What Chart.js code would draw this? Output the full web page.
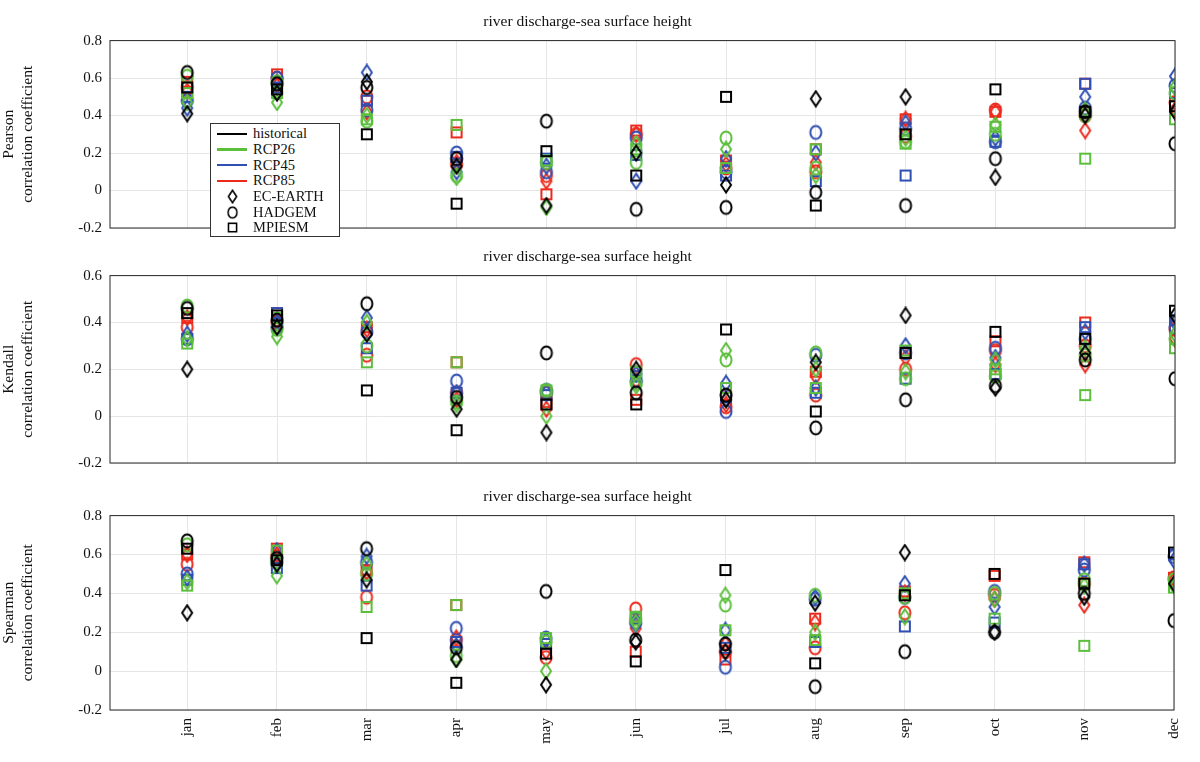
<!DOCTYPE html>
<html>
<head>
<meta charset="utf-8">
<script src="https://cdn.jsdelivr.net/npm/chart.js"></script>
<style>
  body { margin: 0; background: #fff; }
  #wrap { position: relative; width: 1200px; height: 762px; }
  #wrap > canvas { position: absolute; left: 0; }
  #legend {
    position: absolute; left: 210px; top: 123px; width: 130px; height: 114px;
    background: #fff; border: 1px solid #333; font-family: "Liberation Serif", "DejaVu Serif", serif;
    font-size: 14.5px; color: #111; z-index: 5; padding-top: 2px; box-sizing: border-box;
  }
  .row { height: 15.7px; display: flex; align-items: center; overflow: visible; }
  .ln { width: 30px; height: 2.5px; margin: 0 6px 0 6px; flex: none; }
  .mk { width: 30px; height: 15px; margin: 0 6px 0 6px; display: flex; justify-content: center; align-items: center; flex: none; }
  .mk canvas { display: block; width: 13px; height: 15px; }
</style>
</head>
<body>
<div id="wrap">
  <canvas id="c1" style="top:0px"></canvas>
  <canvas id="c2" style="top:245px"></canvas>
  <canvas id="c3" style="top:480px"></canvas>
  <div id="legend"></div>
</div>
<script>
const months = ['jan', 'feb', 'mar', 'apr', 'may', 'jun', 'jul', 'aug', 'sep', 'oct', 'nov', 'dec'];
const scenarios = ['historical', 'RCP26', 'RCP45', 'RCP85'];
const models = ['EC-EARTH', 'HADGEM', 'MPIESM'];
const scenarioColors = ['#000000', '#5bbf3c', '#2f4fb2', '#ec2a1c'];

// Pearson
const pearsonHistEC  = [0.41, 0.52, 0.58, 0.13, -0.08, 0.20, 0.03, 0.49, 0.50, 0.07, 0.40, 0.42];
const pearsonHistHAD = [0.63, 0.57, 0.55, 0.17, 0.37, -0.10, -0.09, -0.01, -0.08, 0.17, 0.42, 0.25];
const pearsonHistMPI = [0.55, 0.54, 0.30, -0.07, 0.21, 0.08, 0.50, -0.08, 0.30, 0.54, 0.42, 0.45];
const pearson26EC    = [0.47, 0.47, 0.40, 0.07, -0.09, 0.25, 0.22, 0.08, 0.28, 0.35, 0.43, 0.55];
const pearson26HAD   = [0.61, 0.58, 0.37, 0.08, 0.15, 0.15, 0.28, 0.12, 0.26, 0.30, 0.40, 0.52];
const pearson26MPI   = [0.52, 0.52, 0.38, 0.35, 0.16, 0.22, 0.12, 0.22, 0.25, 0.34, 0.17, 0.38];
const pearson45EC    = [0.44, 0.58, 0.63, 0.10, 0.13, 0.05, 0.17, 0.20, 0.36, 0.28, 0.50, 0.61];
const pearson45HAD   = [0.48, 0.60, 0.43, 0.20, 0.10, 0.28, 0.10, 0.31, 0.33, 0.26, 0.44, 0.56];
const pearson45MPI   = [0.50, 0.55, 0.48, 0.18, 0.17, 0.19, 0.08, 0.05, 0.08, 0.26, 0.57, 0.52];
const pearson85EC    = [0.53, 0.56, 0.42, 0.15, 0.05, 0.30, 0.14, 0.15, 0.38, 0.42, 0.32, 0.43];
const pearson85HAD   = [0.55, 0.60, 0.50, 0.14, 0.08, 0.30, 0.12, 0.10, 0.29, 0.43, 0.40, 0.47];
const pearson85MPI   = [0.58, 0.62, 0.48, 0.31, -0.02, 0.32, 0.16, 0.22, 0.38, 0.42, 0.57, 0.45];

// Kendall
const kendallHistEC  = [0.20, 0.38, 0.35, 0.03, -0.07, 0.20, 0.07, 0.23, 0.43, 0.12, 0.27, 0.43];
const kendallHistHAD = [0.46, 0.41, 0.48, 0.08, 0.27, 0.10, 0.09, -0.05, 0.07, 0.13, 0.24, 0.16];
const kendallHistMPI = [0.44, 0.43, 0.11, -0.06, 0.05, 0.05, 0.37, 0.02, 0.27, 0.36, 0.33, 0.45];
const kendall26EC    = [0.33, 0.34, 0.40, 0.05, 0.00, 0.13, 0.28, 0.20, 0.19, 0.24, 0.29, 0.35];
const kendall26HAD   = [0.47, 0.37, 0.30, 0.06, 0.11, 0.14, 0.24, 0.27, 0.16, 0.17, 0.26, 0.33];
const kendall26MPI   = [0.31, 0.42, 0.23, 0.23, 0.11, 0.19, 0.12, 0.12, 0.28, 0.20, 0.09, 0.29];
const kendall45EC    = [0.35, 0.40, 0.42, 0.10, 0.10, 0.18, 0.14, 0.12, 0.30, 0.25, 0.36, 0.40];
const kendall45HAD   = [0.33, 0.38, 0.36, 0.15, 0.11, 0.15, 0.02, 0.26, 0.27, 0.29, 0.33, 0.38];
const kendall45MPI   = [0.33, 0.44, 0.29, 0.10, 0.09, 0.17, 0.08, 0.10, 0.16, 0.18, 0.38, 0.41];
const kendall85EC    = [0.42, 0.41, 0.37, 0.07, 0.03, 0.15, 0.05, 0.17, 0.25, 0.22, 0.22, 0.33];
const kendall85HAD   = [0.38, 0.40, 0.26, 0.10, 0.10, 0.22, 0.04, 0.09, 0.20, 0.28, 0.30, 0.37];
const kendall85MPI   = [0.42, 0.44, 0.38, 0.23, 0.06, 0.07, 0.09, 0.19, 0.27, 0.32, 0.40, 0.37];

// Spearman
const spearmanHistEC  = [0.30, 0.55, 0.47, 0.06, -0.07, 0.15, 0.10, 0.35, 0.61, 0.20, 0.38, 0.45];
const spearmanHistHAD = [0.67, 0.58, 0.63, 0.12, 0.41, 0.16, 0.14, -0.08, 0.10, 0.20, 0.40, 0.26];
const spearmanHistMPI = [0.63, 0.57, 0.17, -0.06, 0.09, 0.05, 0.52, 0.04, 0.39, 0.50, 0.45, 0.61];
const spearman26EC    = [0.46, 0.49, 0.55, 0.06, 0.00, 0.25, 0.39, 0.20, 0.28, 0.37, 0.44, 0.44];
const spearman26HAD   = [0.65, 0.56, 0.50, 0.08, 0.15, 0.27, 0.34, 0.39, 0.38, 0.40, 0.47, 0.47];
const spearman26MPI   = [0.44, 0.62, 0.33, 0.34, 0.17, 0.28, 0.21, 0.16, 0.40, 0.27, 0.13, 0.43];
const spearman45EC    = [0.48, 0.62, 0.59, 0.13, 0.16, 0.24, 0.21, 0.38, 0.45, 0.33, 0.55, 0.57];
const spearman45HAD   = [0.50, 0.56, 0.56, 0.22, 0.17, 0.25, 0.02, 0.37, 0.38, 0.41, 0.52, 0.59];
const spearman45MPI   = [0.47, 0.53, 0.44, 0.15, 0.14, 0.27, 0.12, 0.15, 0.23, 0.25, 0.55, 0.60];
const spearman85EC    = [0.60, 0.60, 0.51, 0.17, 0.10, 0.22, 0.14, 0.25, 0.40, 0.37, 0.34, 0.47];
const spearman85HAD   = [0.55, 0.59, 0.38, 0.16, 0.07, 0.32, 0.10, 0.12, 0.30, 0.39, 0.45, 0.48];
const spearman85MPI   = [0.60, 0.63, 0.52, 0.34, 0.14, 0.10, 0.06, 0.27, 0.41, 0.49, 0.56, 0.48];

const serif = '"Liberation Serif", "DejaVu Serif", serif';

// marker images (MATLAB-like tall diamond, circle, square)
function makeMarker(shape, color) {
  const c = document.createElement('canvas');
  c.width = 16; c.height = 18;
  const g = c.getContext('2d');
  g.strokeStyle = color; g.lineWidth = 2;
  g.beginPath();
  if (shape === 0) {
    g.moveTo(8, 1.5); g.lineTo(13, 9); g.lineTo(8, 16.5); g.lineTo(3, 9); g.closePath();
  } else if (shape === 1) {
    g.ellipse(8, 9, 5.5, 6.5, 0, 0, Math.PI * 2);
  } else {
    g.rect(3, 4, 10, 10);
  }
  g.stroke();
  return c;
}

function buildDatasets(groups) {
  const ds = [];
  groups.forEach((byModel, s) => {
    byModel.forEach((vals, m) => {
      ds.push({
        label: scenarios[s] + ' ' + models[m],
        data: vals.map((v, i) => ({ x: i + 1, y: v })),
        pointStyle: makeMarker(m, scenarioColors[s]),
        pointRadius: 8,
        showLine: false
      });
    });
  });
  return ds;
}

const boxPlugin = {
  id: 'box',
  afterDraw(chart) {
    const a = chart.chartArea, g = chart.ctx;
    g.save(); g.strokeStyle = '#262626'; g.lineWidth = 1;
    g.strokeRect(a.left, a.top, a.right - a.left, a.bottom - a.top);
    g.restore();
  }
};

function makePanel(id, height, groups, yName, yMin, yMax, showX, titlePad) {
  const cv = document.getElementById(id);
  cv.style.width = '1200px'; cv.style.height = height + 'px';
  new Chart(cv, {
    type: 'scatter',
    data: { datasets: buildDatasets(groups) },
    plugins: [boxPlugin],
    options: {
      responsive: false, animation: false, devicePixelRatio: 1,
      layout: { padding: { left: 0, right: 25 } },
      plugins: {
        legend: { display: false }, tooltip: { enabled: false },
        title: { display: true, text: 'river discharge-sea surface height', color: '#111',
          font: { family: serif, size: 15.5, weight: 'normal' }, padding: titlePad }
      },
      scales: {
        x: {
          type: 'linear', min: 0.14, max: 12,
          afterBuildTicks: s => { s.ticks = months.map((m, i) => ({ value: i + 1 })); },
          afterFit: s => { s.height = showX ? 52 : 10; },
          grid: { color: '#e6e6e6', drawTicks: false },
          border: { display: false },
          ticks: { display: showX, maxRotation: 90, minRotation: 90, color: '#111', padding: 8,
            font: { family: serif, size: 15 }, callback: v => months[Math.round(v) - 1] }
        },
        y: {
          min: yMin, max: yMax,
          afterFit: s => { s.width = 110; },
          grid: { color: '#e6e6e6', drawTicks: false },
          border: { display: false },
          ticks: { stepSize: 0.2, color: '#111', padding: 8, font: { family: serif, size: 15 },
            callback: v => Math.abs(v) < 1e-9 ? '0' : v.toFixed(1) },
          title: { display: true, text: [yName, 'correlation coefficient'], color: '#111',
            font: { family: serif, size: 15.5 }, padding: 0 }
        }
      }
    }
  });
}

makePanel('c1', 245, [
  [pearsonHistEC, pearsonHistHAD, pearsonHistMPI],
  [pearson26EC, pearson26HAD, pearson26MPI],
  [pearson45EC, pearson45HAD, pearson45MPI],
  [pearson85EC, pearson85HAD, pearson85MPI]
], 'Pearson', -0.2, 0.8, false, { top: 13, bottom: 9 });

makePanel('c2', 235, [
  [kendallHistEC, kendallHistHAD, kendallHistMPI],
  [kendall26EC, kendall26HAD, kendall26MPI],
  [kendall45EC, kendall45HAD, kendall45MPI],
  [kendall85EC, kendall85HAD, kendall85MPI]
], 'Kendall', -0.2, 0.6, false, { top: 3, bottom: 9 });

makePanel('c3', 282, [
  [spearmanHistEC, spearmanHistHAD, spearmanHistMPI],
  [spearman26EC, spearman26HAD, spearman26MPI],
  [spearman45EC, spearman45HAD, spearman45MPI],
  [spearman85EC, spearman85HAD, spearman85MPI]
], 'Spearman', -0.2, 0.8, true, { top: 8, bottom: 9 });

// legend box
const legend = document.getElementById('legend');
scenarios.forEach((s, i) => {
  const r = document.createElement('div'); r.className = 'row';
  r.innerHTML = '<div class="ln" style="background:' + scenarioColors[i] + '"></div><span>' + s + '</span>';
  legend.appendChild(r);
});
models.forEach((m, i) => {
  const r = document.createElement('div'); r.className = 'row';
  const box = document.createElement('div'); box.className = 'mk';
  box.appendChild(makeMarker(i, '#000'));
  r.appendChild(box);
  const t = document.createElement('span'); t.textContent = m; r.appendChild(t);
  legend.appendChild(r);
});
</script>
</body>
</html>
